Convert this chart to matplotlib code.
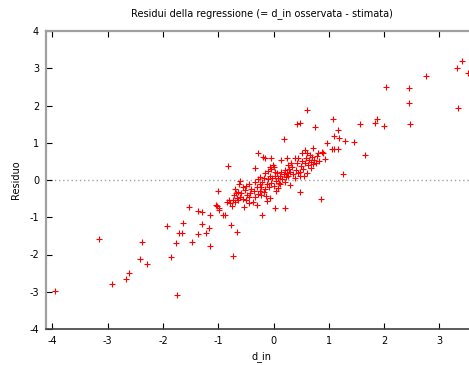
import matplotlib
matplotlib.use("Agg")
import matplotlib.pyplot as plt

# Regression residuals versus observed d_in
d_in = [
    -3.96, -3.15, -2.93, -2.67, -2.62, -2.41, -2.37, -2.28,
    -1.92, -1.86, -1.77, -1.74, -1.71, -1.65, -1.63, -1.53, -1.47, -1.36, -1.36, -1.30,
    -1.30, -1.23, -1.16, -1.15, -1.15, -1.04, -1.01, -0.99, -0.98, -0.91, -0.87, -0.77,
    -0.73, -0.66, -0.82, -0.53, -0.21, 0.02, 0.20, -0.28, -0.19, 0.19, 0.60, 0.43, 0.48,
    0.75, 1.07, 1.17, 1.09, 1.19, 0.97, 1.30, 1.46, 1.05, 1.09, 1.17, 0.87, 0.90, 0.93,
    1.25, 0.85, 0.48, 1.56, 1.65, 1.87, 1.84, 1.99, 2.03, 2.45, 2.45, 2.46, 2.75, 3.31,
    3.41, 3.51, 3.33,
    -0.85, -0.79, -0.70, -0.76, -0.80, -0.74, -0.64, -1.03,
    -0.70, -0.64, -0.58, -0.52, -0.40, -0.61, -0.62, -0.45, -0.48, -0.42, -0.36, -0.34,
    -0.30, -0.28, -0.25, -0.33, -0.37, -0.30, -0.12, -0.07, -0.55, -0.60, -0.50, -0.45,
    -0.66, -0.72, -0.68, -0.56, -0.50, -0.44,
    -0.25, -0.22, -0.20, -0.18, -0.15, -0.12, -0.10, -0.08, -0.06, -0.04, -0.02, 0.00,
    0.02, 0.04, 0.06, 0.08, 0.10, 0.12, 0.14, 0.16, 0.18, 0.20, 0.22, 0.24, 0.26, 0.28,
    -0.16, -0.10, -0.05, 0.00, -0.07, -0.01, -0.34, -0.16, -0.04, 0.14, 0.24, 0.39, 0.45,
    -0.22, -0.18, -0.14, 0.04, 0.08, 0.12, 0.29, 0.20, 0.02, -0.24, -0.28,
    0.30, 0.34, 0.36, 0.40, 0.42, 0.44, 0.48, 0.50, 0.52, 0.54, 0.57, 0.60, 0.51, 0.56,
    0.58, 0.62, 0.64, 0.66, 0.68, 0.70, 0.72, 0.74, 0.76, 0.78, 0.80, 0.82, 0.48, 0.55,
    0.60, 0.38, 0.32, 0.26, 0.68, 0.71,
]
residuo = [
    -2.99, -1.58, -2.80, -2.67, -2.51, -2.12, -1.67, -2.25,
    -1.23, -2.08, -1.70, -3.08, -1.43, -1.43, -1.16, -0.73, -1.66, -0.82, -1.45, -0.85,
    -1.18, -1.41, -1.29, -0.94, -1.77, -0.68, -0.30, -0.81, -0.76, -0.95, -0.94, -1.21,
    -2.05, -1.40, 0.38, -0.72, -0.95, -0.76, -0.76, 0.72, 0.61, 1.10, 1.88, 1.50, 1.52,
    1.43, 1.63, 1.34, 1.18, 1.12, 0.98, 1.04, 1.02, 0.84, 0.82, 0.82, 0.76, 0.72, 0.56,
    0.15, -0.52, -0.31, 1.49, 0.67, 1.65, 1.52, 1.44, 2.50, 2.47, 2.06, 1.49, 2.78, 3.02,
    3.19, 2.86, 1.93,
    -0.58, -0.61, -0.58, -0.70, -0.55, -0.54, -0.54, -0.70,
    -0.25, -0.31, -0.36, -0.27, -0.25, -0.04, -0.12, -0.10, -0.40, -0.35, -0.30, -0.45,
    -0.20, -0.38, -0.10, -0.05, -0.58, -0.67, -0.56, -0.49, -0.50, -0.45, -0.55, -0.62,
    -0.48, -0.40, -0.35, -0.20, -0.15, -0.45,
    -0.30, -0.18, -0.05, 0.05, -0.25, -0.12, 0.02, -0.20, 0.12, -0.08, 0.05, -0.15,
    0.10, -0.02, 0.18, 0.05, -0.08, 0.12, 0.22, 0.02, 0.15, 0.28, 0.08, 0.20, 0.10, 0.30,
    0.18, 0.25, 0.30, 0.35, 0.36, 0.40, 0.31, 0.58, 0.58, 0.54, 0.58, 0.58, 0.58,
    -0.40, -0.32, -0.42, -0.30, -0.22, -0.12, -0.13, -0.05, 0.22, 0.08, 0.02,
    0.22, 0.35, 0.15, 0.28, 0.45, 0.20, 0.22, 0.38, 0.52, 0.30, 0.81, 0.72, 0.73, 0.45,
    0.58, 0.40, 0.55, 0.68, 0.48, 0.62, 0.42, 0.55, 0.45, 0.65, 0.72, 0.50, 0.10, 0.10,
    0.20, 0.05, 0.45, 0.40, 0.32, 0.85,
]

x_ticks = [-4, -3, -2, -1, 0, 1, 2, 3]
y_ticks = [-4, -3, -2, -1, 0, 1, 2, 3, 4]

W, H = 469, 365
fig = plt.figure(figsize=(W / 100, H / 100), dpi=100)
left_px, right_px, top_px, bottom_px = 46, 480, 31, 329
ax = fig.add_axes([left_px / W, 1 - bottom_px / H,
                   (right_px - left_px) / W, (bottom_px - top_px) / H])

ax.axhline(0, color="#a0a0a0", lw=1.0, ls=(0, (1, 2)), zorder=1)
ax.plot(d_in, residuo, ls="none", marker="+", ms=4.6, mew=0.8,
        color="#ff0000", zorder=3, clip_on=True)

# x range: -4.115 at the left spine, 55.3 px per unit
ax.set_xlim(-4.115, -4.115 + (right_px - left_px) / 55.3)
ax.set_ylim(-4, 4)
ax.set_xticks(x_ticks)
ax.set_yticks(y_ticks)
ax.set_xticklabels([str(t) for t in x_ticks])
ax.set_yticklabels([str(t) for t in y_ticks])

ax.tick_params(direction="in", length=4, width=0.8, color="black",
               labelsize=7, top=True, right=False, pad=5)
for side in ("left", "top"):
    ax.spines[side].set_color("#a0a0a0")
    ax.spines[side].set_linewidth(1.6)
ax.spines["bottom"].set_color("#404040")
ax.spines["bottom"].set_linewidth(1.2)
ax.spines["right"].set_visible(False)

fig.text(262 / W, 1 - 14 / H, "Residui della regressione (= d_in osservata - stimata)",
         ha="center", va="center", fontsize=7)
fig.text(262 / W, 1 - 357 / H, "d_in", ha="center", va="center", fontsize=7)
fig.text(16 / W, 1 - 180 / H, "Residuo", ha="center", va="center",
         rotation=90, fontsize=7)

fig.savefig("out.png", dpi=100)
